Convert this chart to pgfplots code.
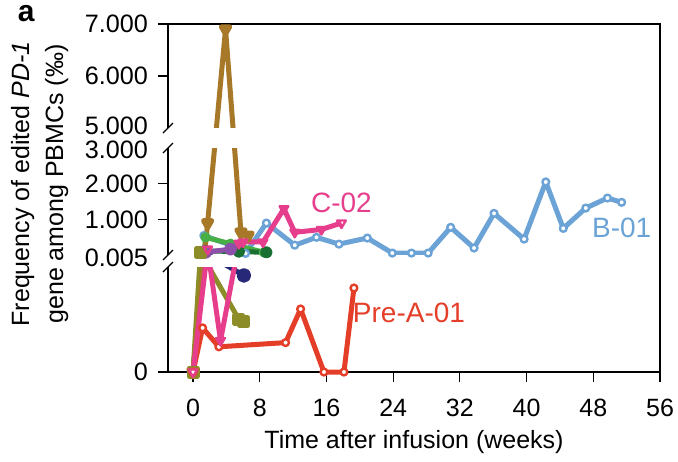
\documentclass[border=0pt]{standalone}
\usepackage{pgfplots}
\pgfplotsset{compat=1.18}
\usepackage{fontspec}
\setmainfont{Liberation Sans}

\definecolor{cB}{RGB}{107,163,214}
\definecolor{cC}{RGB}{230,62,140}
\definecolor{cP}{RGB}{229,62,40}
\definecolor{cBrown}{RGB}{166,120,40}
\definecolor{cOlive}{RGB}{140,140,40}
\definecolor{cGreen}{RGB}{70,175,70}
\definecolor{cDkGreen}{RGB}{25,110,50}
\definecolor{cPurple}{RGB}{140,80,170}
\definecolor{cNavy}{RGB}{40,40,120}

\begin{document}
\begin{tikzpicture}
\begin{axis}[
  scale only axis, width=246pt, height=174pt,
  xmin=-3, xmax=56, ymin=0, ymax=348,
  axis x line*=bottom, axis y line*=left,
  y axis line style={draw=none},
  x axis line style={-, line width=0.8pt},
  tick align=outside, major tick length=5pt,
  tick style={black, line width=0.6pt},
  xtick={0,8,...,56},
  ytick={0,152.5,188.2,296,348},
  yticklabels={0,1.000,2.000,6.000,7.000},
  extra y ticks={114,222,246},
  extra y tick labels={0.005,3.000,5.000},
  extra y tick style={major tick style={draw=none}},
  /pgf/number format/assume math mode=true,
  xticklabel style={font=\fontsize{12.5}{14}\selectfont, yshift=-5pt},
  yticklabel style={font=\fontsize{12.6}{14}\selectfont, inner ysep=0pt, xshift=-1.5pt},
  xlabel={Time after infusion (weeks)},
  xlabel style={font=\fontsize{12.5}{14}\selectfont},
  clip=false,
  every axis plot/.append style={line width=2.5pt, line join=round,
    y filter/.expression={y<=0.005 ? y*21000 : (y<=4 ? 117+(y-0.005)*35.726 : 244+(y-5)*52)}},
]
% B-01
\addplot[cB, mark=*, mark size=1.7pt, mark options={fill=white, line width=1.2pt}] coordinates {
(1.3,0.55) (4.5,0.28) (6.3,0.05) (8.8,0.9) (12.2,0.28) (14.8,0.5) (17.5,0.31)
(20.9,0.48) (23.9,0.06) (26.2,0.06) (28.2,0.06) (30.9,0.78) (33.7,0.2) (36.1,1.17)
(39.7,0.45) (42.3,2.05) (44.4,0.75) (47.1,1.32) (49.7,1.6) (51.4,1.48)};
% green
\addplot[cGreen, mark=*, mark size=1.3pt] coordinates {(0,0) (1.5,0.5) (4.5,0.32) (8.5,0.08)};
% dark green
\addplot[cDkGreen, mark=*, mark size=1.8pt] coordinates {(0,0) (1.5,0.12) (5.5,0.1) (8.8,0.08)};
% purple
\addplot[cPurple, mark=*, mark size=2pt] coordinates {(0,0) (1.5,0.08) (4.5,0.17)};
% olive
\addplot[cOlive, mark=square*, mark size=2pt] coordinates {(0,0) (0.9,0.08) (5.5,0.0025) (6.1,0.0024)};
% brown
\addplot[cBrown, mark=triangle*, mark size=2.4pt, mark options={rotate=180}] coordinates {(0,0) (1.75,0.9) (3.9,6.9) (5.75,0.64) (6.6,0.55)};
% navy
\addplot[cNavy, mark=none] coordinates {(1.5,0.05) (6.1,0.0046)};
\addplot[cNavy, only marks, mark=*, mark size=2.4pt] coordinates {(6.1,0.0046)};
% Pre-A-01
\addplot[cP, mark=*, mark size=1.7pt, mark options={fill=white, line width=1.2pt}] coordinates {
(0,0) (1.15,0.0021) (3.1,0.0012) (11.1,0.0014) (12.9,0.0030) (15.7,0) (18.1,0) (19.3,0.0040)};
% C-02
\addplot[cC, mark=triangle, mark size=2.5pt, mark options={rotate=180, fill=white, line width=1.2pt}] coordinates {
(0,0) (1.75,0.17) (3.3,0.0015) (5.5,0.33) (6.0,0.37) (8.4,0.37) (10.9,1.3) (12.2,0.64) (15.4,0.72) (17.8,0.9)};

% axis breaks
\fill[white] (axis cs:-3,105) rectangle (axis cs:56,117);
\fill[white] (axis cs:-3,224) rectangle (axis cs:56,244);
\draw[line width=0.8pt] (axis cs:-3,0) -- (axis cs:-3,105);
\draw[line width=0.8pt] (axis cs:-3,117) -- (axis cs:-3,224);
\draw[line width=0.8pt] (axis cs:-3,244) -- (axis cs:-3,348) -- (axis cs:56,348) -- (axis cs:56,0);
\draw[line width=0.6pt] ([shift={(-2.5pt,-2.5pt)}]axis cs:-3,105) -- ++(5pt,5pt);
\draw[line width=0.6pt] ([shift={(-2.5pt,-2.5pt)}]axis cs:-3,117) -- ++(5pt,5pt);
\draw[line width=0.6pt] ([shift={(-2.5pt,-2.5pt)}]axis cs:-3,224) -- ++(5pt,5pt);
\draw[line width=0.6pt] ([shift={(-2.5pt,-2.5pt)}]axis cs:-3,244) -- ++(5pt,5pt);

% series labels
\node[cC, font=\fontsize{14}{16}\selectfont] at (axis cs:17.8,169) {C-02};
\node[cB, font=\fontsize{14}{16}\selectfont] at (axis cs:51.4,144) {B-01};
\node[cP, font=\fontsize{14}{16}\selectfont] at (axis cs:25.9,59) {Pre-A-01};
\node[font=\bfseries\fontsize{15}{17}\selectfont, inner sep=0pt] at (axis cs:-20.0,358) {a};
\node[rotate=90, align=center, font=\fontsize{12.5}{17}\selectfont] at (axis cs:-18.4,188)
  {Frequency of edited \textit{PD-1}\\gene among PBMCs (‰)};
\coordinate (sw) at (axis cs:-3,0);
\end{axis}
\pgfresetboundingbox
\path[use as bounding box] ([shift={(-84pt,-44.5pt)}]sw) rectangle ++(339pt,230.5pt);
\end{tikzpicture}
\end{document}
